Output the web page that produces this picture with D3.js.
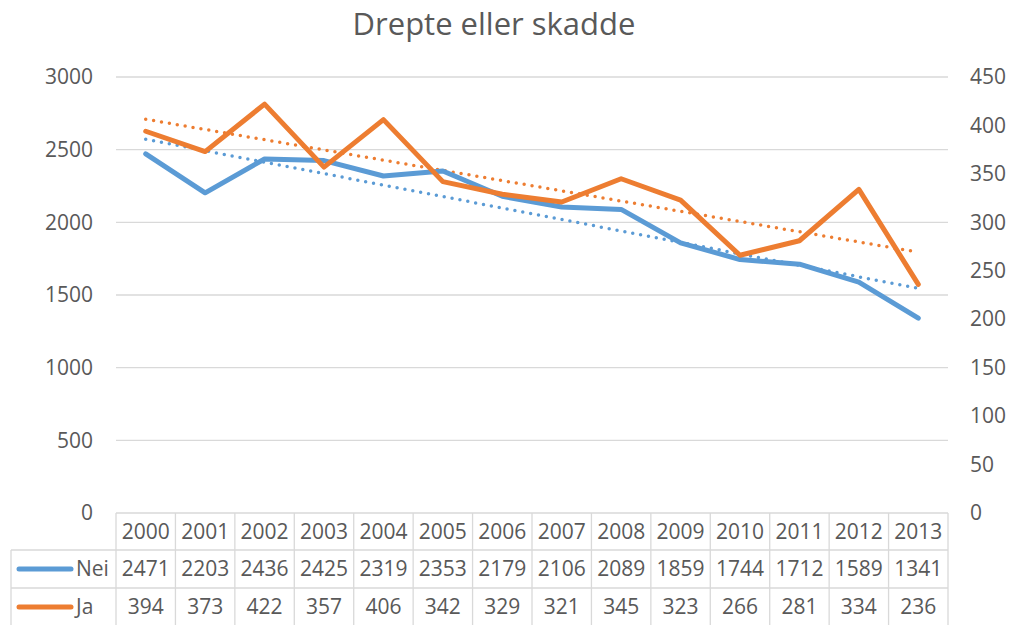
<!DOCTYPE html>
<html>
<head>
<meta charset="utf-8">
<script src="https://cdn.jsdelivr.net/npm/d3@7"></script>
<style>
  body { margin: 0; background: #fff; }
  text { font-family: "Open Sans", sans-serif; fill: #595959; }
</style>
</head>
<body>
<svg id="chart"></svg>
<script>
// data
const years = [2000, 2001, 2002, 2003, 2004, 2005, 2006, 2007, 2008, 2009, 2010, 2011, 2012, 2013];
const nei = [2471, 2203, 2436, 2425, 2319, 2353, 2179, 2106, 2089, 1859, 1744, 1712, 1589, 1341];
const ja = [394, 373, 422, 357, 406, 342, 329, 321, 345, 323, 266, 281, 334, 236];
const leftTicks = [0, 500, 1000, 1500, 2000, 2500, 3000];
const rightTicks = [0, 50, 100, 150, 200, 250, 300, 350, 400, 450];

const width = 1013, height = 625;
const plot = { left: 116, right: 948, top: 77, bottom: 513 };
const gridColor = '#d9d9d9';
const blue = '#5b9bd5', orange = '#ed7d31';
const fontSize = 21;

const svg = d3.select('#chart').attr('width', width).attr('height', height);

const x = d3.scaleBand().domain(years).range([plot.left, plot.right]);
const yL = d3.scaleLinear().domain([0, 3000]).range([plot.bottom, plot.top]);
const yR = d3.scaleLinear().domain([0, 450]).range([plot.bottom, plot.top]);
const cx = (d) => x(d) + x.bandwidth() / 2;

// title
svg.append('text')
    .attr('x', 494).attr('y', 35)
    .attr('text-anchor', 'middle')
    .attr('font-size', 31)
    .text('Drepte eller skadde');

// gridlines
svg.append('g').selectAll('line')
    .data(leftTicks.filter((t) => t > 0))
    .enter().append('line')
    .attr('x1', plot.left).attr('x2', plot.right)
    .attr('y1', (d) => yL(d)).attr('y2', (d) => yL(d))
    .style('stroke', gridColor).style('stroke-width', 1.3);

// axes
const axL = svg.append('g').attr('transform', `translate(${plot.left - 23},0)`)
    .call(d3.axisLeft(yL).tickValues(leftTicks).tickFormat(d3.format('d')).tickSize(0).tickPadding(0));
const axR = svg.append('g').attr('transform', `translate(${plot.right + 22},0)`)
    .call(d3.axisRight(yR).tickValues(rightTicks).tickFormat(d3.format('d')).tickSize(0).tickPadding(0));
[axL, axR].forEach((ax) => {
    ax.select('.domain').remove();
    ax.selectAll('text').attr('font-size', fontSize).attr('font-family', null).attr('fill', null);
});

// data table
const rowY = [513, 550, 588, 626];
const tbl = svg.append('g').style('stroke', gridColor).style('stroke-width', 1.3);
tbl.append('line').attr('x1', plot.left).attr('x2', plot.right).attr('y1', rowY[0]).attr('y2', rowY[0]);
tbl.append('line').attr('x1', 11).attr('x2', plot.right).attr('y1', rowY[1]).attr('y2', rowY[1]);
tbl.append('line').attr('x1', 11).attr('x2', plot.right).attr('y1', rowY[2]).attr('y2', rowY[2]);
tbl.append('line').attr('x1', 11).attr('x2', 11).attr('y1', rowY[1]).attr('y2', height);
tbl.selectAll('.col').data(years.concat(['end']))
    .enter().append('line')
    .attr('x1', (d, i) => plot.left + i * x.bandwidth())
    .attr('x2', (d, i) => plot.left + i * x.bandwidth())
    .attr('y1', rowY[0]).attr('y2', height);

const rows = [
    { values: years, y: (rowY[0] + rowY[1]) / 2 },
    { values: nei, y: (rowY[1] + rowY[2]) / 2 },
    { values: ja, y: (rowY[2] + rowY[3]) / 2 }
];
rows.forEach((row) => {
    svg.append('g').selectAll('text')
        .data(row.values)
        .enter().append('text')
        .attr('x', (d, i) => cx(years[i]))
        .attr('y', row.y)
        .attr('dy', '0.35em')
        .attr('text-anchor', 'middle')
        .attr('font-size', fontSize)
        .text((d) => d);
});

// legend keys in the table
const legend = [
    { name: 'Nei', color: blue, y: rows[1].y },
    { name: 'Ja', color: orange, y: rows[2].y }
];
legend.forEach((l) => {
    svg.append('line')
        .attr('x1', 19).attr('x2', 71).attr('y1', l.y).attr('y2', l.y)
        .style('stroke', l.color).style('stroke-width', 5).style('stroke-linecap', 'round');
    svg.append('text')
        .attr('x', 76).attr('y', l.y).attr('dy', '0.35em')
        .attr('font-size', fontSize)
        .text(l.name);
});

// linear trend from the series itself
const trend = (vals) => {
    const n = vals.length;
    const mx = d3.mean(vals, (d, i) => i);
    const my = d3.mean(vals);
    const b = d3.sum(vals, (d, i) => (i - mx) * (d - my)) / d3.sum(vals, (d, i) => (i - mx) * (i - mx));
    const a = my - b * mx;
    return [a, a + b * (n - 1)];
};

const series = [
    { values: nei, scale: yL, color: blue },
    { values: ja, scale: yR, color: orange }
];

series.forEach((s) => {
    const t = trend(s.values);
    svg.append('line')
        .attr('x1', cx(years[0])).attr('x2', cx(years[years.length - 1]))
        .attr('y1', s.scale(t[0])).attr('y2', s.scale(t[1]))
        .style('stroke', s.color).style('stroke-width', 3.5)
        .style('stroke-linecap', 'round').style('stroke-dasharray', '0 8');
});

series.forEach((s) => {
    const line = d3.line()
        .x((d, i) => cx(years[i]))
        .y((d) => s.scale(d));
    svg.append('path')
        .datum(s.values)
        .attr('d', line)
        .style('fill', 'none')
        .style('stroke', s.color)
        .style('stroke-width', 5)
        .style('stroke-linejoin', 'round')
        .style('stroke-linecap', 'round');
});
</script>
</body>
</html>
